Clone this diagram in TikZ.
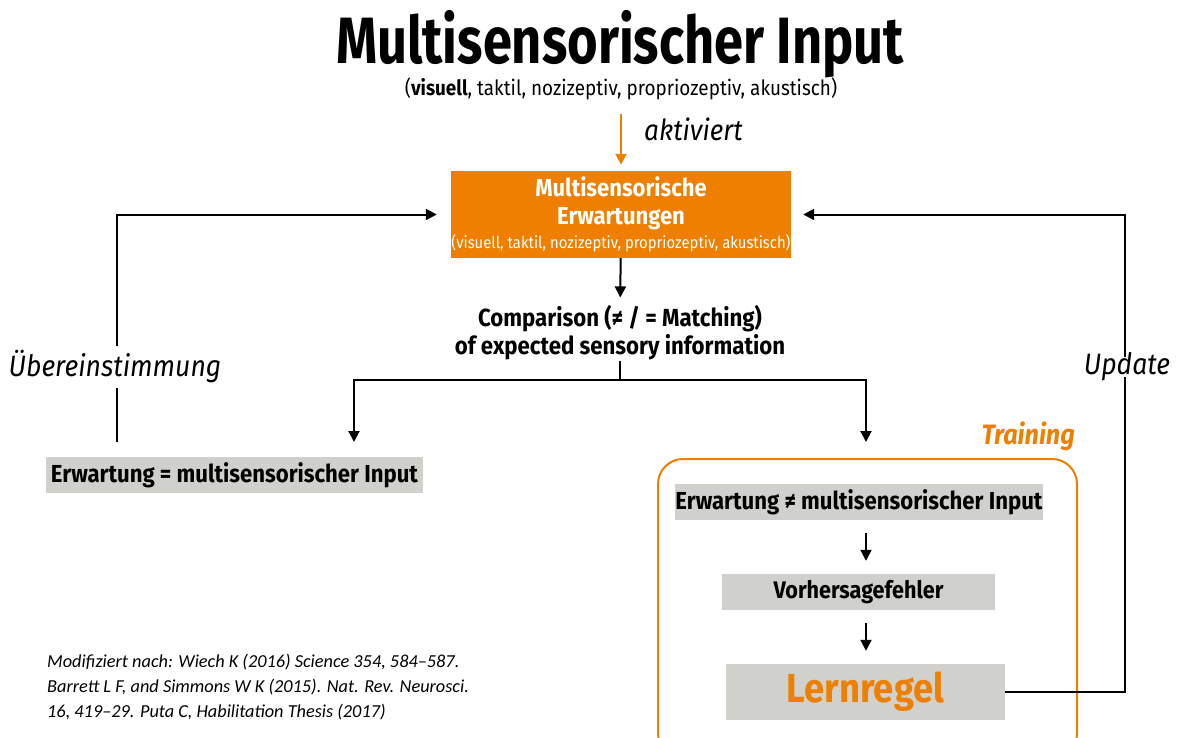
\documentclass[tikz,border=0pt]{standalone}
\usepackage{fontspec}
\setmainfont[FakeStretch=0.9]{Fira Sans}
\newfontfamily\titlefont[FakeStretch=0.8]{Fira Sans}
\newfontfamily\reffont{Carlito}
\usetikzlibrary{positioning}
\usetikzlibrary{arrows.meta}
\definecolor{orng}{HTML}{EE7F00}
\definecolor{grayb}{HTML}{D0D0CC}
\tikzset{
    boxg/.style = {rectangle, fill=grayb, inner sep=0pt, font=\bfseries\fontsize{24.6}{28}\selectfont},
    boxo/.style = {rectangle, fill=orng, inner sep=0pt, text=white, align=center, font=\bfseries\fontsize{24.5}{28}\selectfont},
    frameo/.style = {rectangle, draw=orng, line width=2pt, rounded corners=25pt},
    lbl/.style = {inner sep=0pt, font=\itshape\fontsize{29.5}{30}\selectfont},
    edgen/.style = {-{Triangle[length=11pt,width=11pt]}, line width=2pt, black},
    edgep/.style = {line width=2pt, black},
    edgeo/.style = {-{Triangle[length=11pt,width=11pt]}, line width=2pt, orng}
}

\begin{document}
\begin{tikzpicture}[x=1pt, y=-1pt]
  \useasboundingbox (0,0) rectangle (1181,737);
  % top
  \node[anchor=base, inner sep=0pt, font=\titlefont\bfseries\fontsize{65.5}{70}\selectfont] (title) at (620,63) {Multisensorischer Input};
  \node[anchor=base, inner sep=0pt, font=\fontsize{21}{24}\selectfont] (sub) at (621,95) {(\textbf{visuell}, taktil, nozizeptiv, propriozeptiv, akustisch)};
  \node[boxo, minimum width=340pt, minimum height=87pt] (erw) at (621,214.5)
    {Multisensorische\\Erwartungen\\[-4pt]{\mdseries\fontsize{16.5}{18}\selectfont(visuell, taktil, nozizeptiv, propriozeptiv, akustisch)}};
  \node[lbl, anchor=base west, font=\itshape\fontsize{29}{30}\selectfont] (akt) at (644,140) {aktiviert};
  \draw[edgeo, shorten <=14pt, shorten >=6pt] (sub) -- (erw);

  % comparison
  \node[inner sep=0pt, align=center, font=\bfseries\fontsize{24.7}{28}\selectfont] (cmp) at (620,333)
    {Comparison (≠ / = Matching)\\of expected sensory information};
  \draw[edgen, shorten >=8pt] (erw) -- (cmp);
  \coordinate (fork) at (620,380);
  \coordinate (sl) at (354,442);
  \coordinate (sr) at (866,442);
  \draw[edgep] (cmp) -- (fork);
  \draw[edgen] (fork) -| (sl);
  \draw[edgen] (fork) -| (sr);

  % left: match
  \node[boxg, minimum width=377pt, minimum height=36pt] (eq) at (234.5,475) {Erwartung = multisensorischer Input};
  \node[lbl] (uber) at (115,367) {Übereinstimmung};
  \coordinate (ul) at (117,442);
  \draw[edgep, shorten >=4pt] (ul) -- (uber.south -| ul);
  \draw[edgen, shorten >=14pt] (uber.north -| ul) ++(0,-4) |- (erw.west);

  % right: training
  \node[frameo, minimum width=419pt, minimum height=300pt, anchor=north west] (frm) at (657,458) {};
  \node[inner sep=0pt, anchor=base east, text=orng, font=\bfseries\itshape\fontsize{28}{30}\selectfont] (trn) at (1075,444) {Training};
  \node[boxg, minimum width=364pt, minimum height=36pt] (neq) at (859,502) {Erwartung ≠ multisensorischer Input};
  \node[boxg, minimum width=273pt, minimum height=36pt, font=\bfseries\fontsize{24}{28}\selectfont] (vhf) at (858.5,592) {Vorhersagefehler};
  \node[boxg, minimum width=279pt, minimum height=56pt, text=orng, font=\bfseries\fontsize{40.5}{48}\selectfont] (lern) at (865.5,692) {Lernregel};
  \draw[edgen, shorten <=13pt, shorten >=13pt] (neq.south -| sr) -- (vhf.north -| sr);
  \draw[edgen, shorten <=13pt, shorten >=13pt] (vhf.south -| sr) -- (lern.north -| sr);

  % update
  \node[lbl] (upd) at (1127,367) {Update};
  \coordinate (ur) at (1125,692);
  \draw[edgep] (lern.east) -- (ur) -- ([yshift=4pt]upd.south -| ur);
  \draw[edgen, shorten >=12pt] ([yshift=-4pt]upd.north -| ur) |- (erw.east);

  % source
  \node[anchor=north west, inner sep=0pt, align=left, font=\reffont\itshape\fontsize{18.3}{25}\selectfont] (src) at (47,654)
    {Modifiziert nach: Wiech K (2016) Science 354, 584–587.\\Barrett L F, and Simmons W K (2015). Nat. Rev. Neurosci.\\16, 419–29. Puta C, Habilitation Thesis (2017)};
\end{tikzpicture}
\end{document}
